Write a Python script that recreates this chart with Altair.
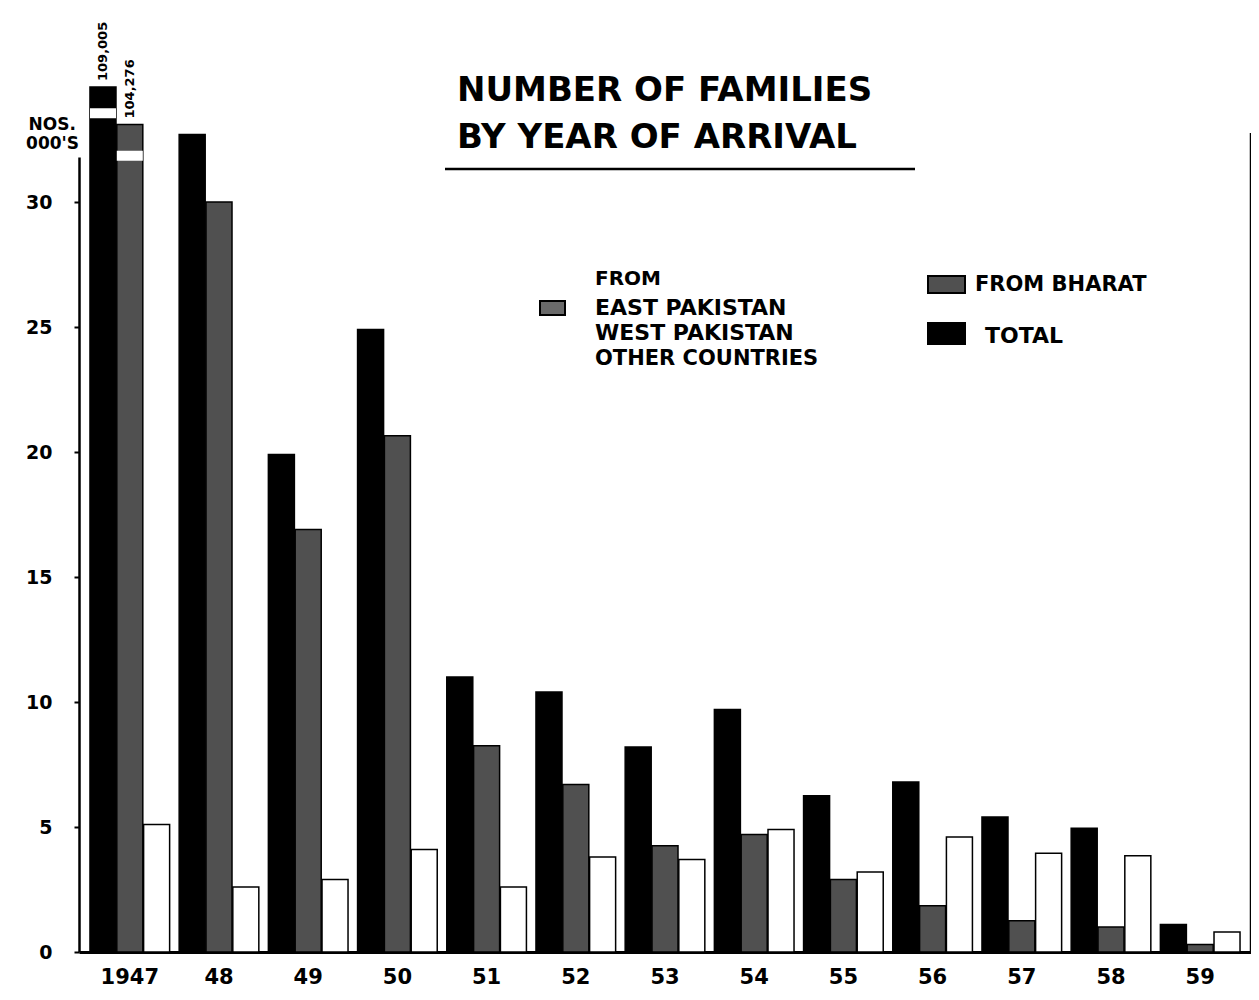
import altair as alt
import pandas as pd

# ---------------- data (thousands of families) ----------------
years = ["1947", "48", "49", "50", "51", "52", "53", "54", "55", "56", "57", "58", "59"]
total = [109.005, 32.7, 19.9, 24.9, 11.0, 10.4, 8.2, 9.7, 6.25, 6.8, 5.4, 4.95, 1.1]
bharat = [104.276, 30.0, 16.9, 20.65, 8.25, 6.7, 4.25, 4.7, 2.9, 1.85, 1.25, 1.0, 0.3]
other = [5.1, 2.6, 2.9, 4.1, 2.6, 3.8, 3.7, 4.9, 3.2, 4.6, 3.95, 3.85, 0.8]
series = ["TOTAL", "FROM BHARAT", "FROM EAST PAKISTAN, WEST PAKISTAN, OTHER COUNTRIES"]
y_ticks = [0, 5, 10, 15, 20, 25, 30]

# broken bars of 1947: where the drawn bar stops, where the break is, and the printed value
caps = {"TOTAL": 34.6, "FROM BHARAT": 33.1}
breaks = {"TOTAL": (33.35, 33.75), "FROM BHARAT": (31.65, 32.05)}
break_labels = {"TOTAL": "109,005", "FROM BHARAT": "104,276"}

rows = []
for i, yr in enumerate(years):
    for s, vals in zip(series, [total, bharat, other]):
        v = vals[i]
        shown = min(v, caps[s]) if s in caps else v
        rows.append({"year": yr, "series": s, "value": v, "shown": shown})
df = pd.DataFrame(rows)

brk = pd.DataFrame([{"year": years[0], "series": s, "lo": lo, "hi": hi} for s, (lo, hi) in breaks.items()])
lab = pd.DataFrame([{"year": years[0], "series": s, "y": caps[s], "text": t} for s, t in break_labels.items()])

# ---------------- layout ----------------
W, H = 1172, 795
FONT = "DejaVu Sans"
Y_TOP = 31.8

x_enc = alt.X(
    "year:N", sort=years,
    scale=alt.Scale(paddingInner=0.107, paddingOuter=0.123),
    axis=alt.Axis(title=None, labelAngle=0, ticks=False, domainWidth=3, domainColor="black",
                  labelFont=FONT, labelFontSize=21, labelFontWeight="bold", labelColor="black",
                  labelPadding=14),
)
xo_enc = alt.XOffset("series:N", sort=series, scale=alt.Scale(paddingInner=0.03))
y_scale = alt.Scale(domain=[0, Y_TOP], nice=False, zero=True)

bars = alt.Chart(df).mark_bar(stroke="black", strokeWidth=1.5).encode(
    x=x_enc,
    xOffset=xo_enc,
    y=alt.Y("shown:Q", scale=y_scale,
            axis=alt.Axis(values=y_ticks, title=None, grid=False, tickSize=5, tickColor="black",
                          tickWidth=2, domainWidth=2.5, domainColor="black",
                          labelFont=FONT, labelFontSize=19, labelFontWeight="bold",
                          labelColor="black", labelPadding=22)),
    color=alt.Color("series:N", scale=alt.Scale(domain=series, range=["#000000", "#505050", "#ffffff"]),
                    legend=None),
)

gaps = alt.Chart(brk).mark_bar(color="white").encode(
    x=alt.X("year:N", sort=years), xOffset=xo_enc,
    y=alt.Y("lo:Q", scale=y_scale), y2="hi:Q",
)

values_txt = alt.Chart(lab).mark_text(angle=270, align="left", baseline="middle", dx=6,
                                       font=FONT, fontSize=13, fontWeight="bold", color="black").encode(
    x=alt.X("year:N", sort=years), xOffset=xo_enc,
    y=alt.Y("y:Q", scale=y_scale), text="text:N",
)

one = alt.Data(values=[{"k": 0}])


def txt(t, x, y, size, align="left"):
    return alt.Chart(one).mark_text(text=t, align=align, baseline="middle", font=FONT,
                                    fontSize=size, fontWeight="bold", color="black").encode(
        x=alt.value(x), y=alt.value(y))


def box(x, x2, y, y2, fill):
    return alt.Chart(one).mark_rect(fill=fill, stroke="black", strokeWidth=2).encode(
        x=alt.value(x), x2=alt.value(x2), y=alt.value(y), y2=alt.value(y2))


title1 = txt("NUMBER OF FAMILIES", 378, -66, 34)
title2 = txt("BY YEAR OF ARRIVAL", 378, -19, 34)
underline = alt.Chart(one).mark_rule(color="black", strokeWidth=2.5).encode(
    x=alt.value(366), x2=alt.value(836), y=alt.value(12))

right_border = alt.Chart(one).mark_rule(color="black", strokeWidth=2.5).encode(
    x=alt.value(W), y=alt.value(-24), y2=alt.value(H))

unit1 = txt("NOS.", -3, -32, 17, align="right")
unit2 = txt("000'S", 0, -13, 17, align="right")

leg = [
    txt("FROM", 516, 122, 20),
    txt("EAST PAKISTAN", 516, 151, 22),
    txt("WEST PAKISTAN", 516, 176, 22),
    txt("OTHER COUNTRIES", 516, 202, 21),
    box(461, 486, 144, 158, "#6a6a6a"),
    box(849, 886, 119, 136, "#505050"),
    txt("FROM  BHARAT", 896, 128, 21),
    box(849, 886, 166, 187, "#000000"),
    txt("TOTAL", 906, 179, 22),
]

chart = alt.layer(
    bars, gaps, values_txt, title1, title2, underline, right_border, unit1, unit2, *leg
).properties(
    width=W, height=H,
    autosize=alt.AutoSizeParams(type="none"),
    padding={"left": 71, "top": 149, "right": 0, "bottom": 38},
).configure_view(stroke=None)

chart.save("out.html", embed_options={"renderer": "svg", "actions": False})
